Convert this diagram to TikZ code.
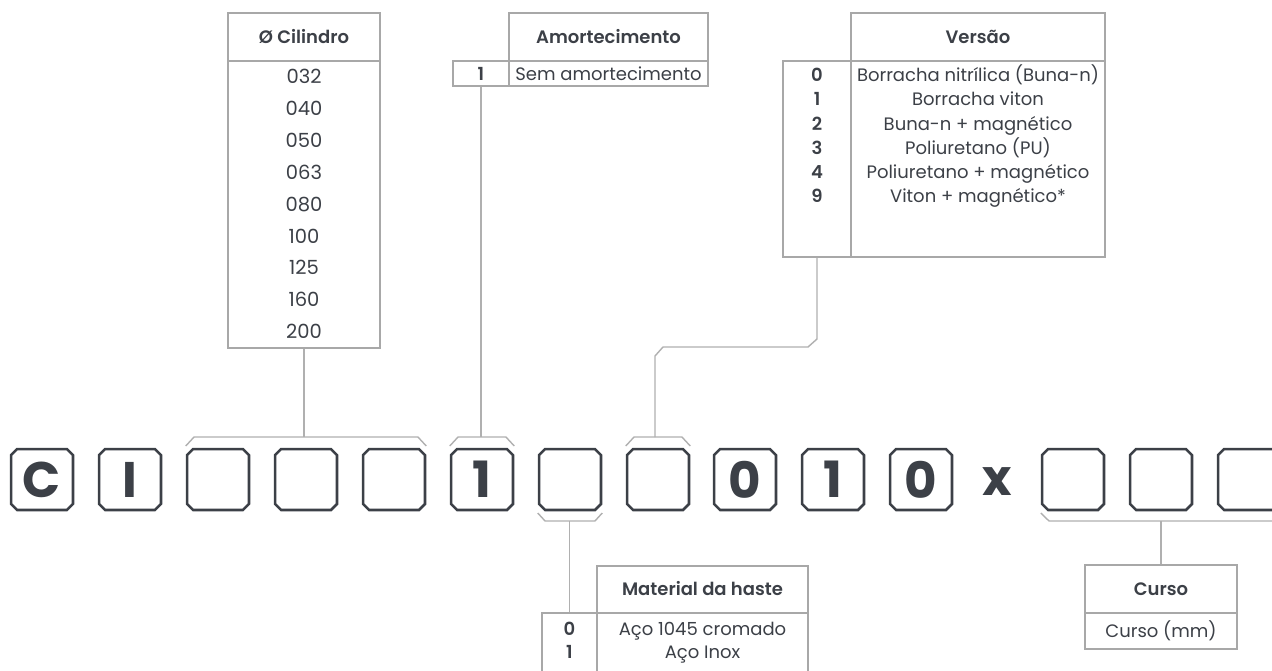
\documentclass[tikz,border=0pt]{standalone}
\usepackage{fontspec}
\setmainfont{Poppins}[BoldFont={Poppins SemiBold}]
\newfontfamily\heavy{Poppins Bold}
\usetikzlibrary{calc}
\definecolor{ink}{HTML}{3C4047}
\definecolor{tline}{HTML}{A8A8A8}
\definecolor{bline}{HTML}{B0B0B0}
\begin{document}
\begin{tikzpicture}[x=1pt,y=-1pt,
  codebox/.style={rectangle, minimum width=61.5pt, minimum height=60.5pt, inner sep=0pt,
    text=ink, font=\fontsize{50}{50}\selectfont\heavy},
  boxline/.style={draw=ink, line width=2.6pt, line join=miter},
  cellbox/.style={draw=tline, line width=1.3pt, inner sep=0pt, rectangle},
  brk/.style={draw=bline, line width=1.4pt},
  head/.style={text=ink, font=\fontsize{18}{21}\selectfont\bfseries, anchor=base, inner sep=0pt},
  rowtxt/.style={text=ink, font=\fontsize{18}{21}\selectfont, anchor=base, inner sep=0pt},
  bigrow/.style={text=ink, font=\fontsize{19.5}{22}\selectfont, anchor=base, inner sep=0pt},
  numtxt/.style={text=ink, font=\fontsize{18}{21}\selectfont\bfseries, anchor=base, inner sep=0pt}]
\useasboundingbox (0,0) rectangle (1272,670);
\fill[white] (0,0) rectangle (1272,670);

% ---- code boxes ----
\node[codebox] (b1) at (42,479.5) {C};
\node[codebox] (b2) at (130,479.5) {I};
\node[codebox] (b3) at (218,479.5) {};
\node[codebox] (b4) at (306,479.5) {};
\node[codebox] (b5) at (394,479.5) {};
\node[codebox] (b6) at (482,479.5) {1};
\node[codebox] (b7) at (570,479.5) {};
\node[codebox] (b8) at (658,479.5) {};
\node[codebox] (b9) at (745,479.5) {0};
\node[codebox] (b10) at (833,479.5) {1};
\node[codebox] (b11) at (921,479.5) {0};
\node[text=ink, font=\fontsize{50}{50}\selectfont\heavy, inner sep=0pt] (xx) at (997,482) {x};
\node[codebox] (b12) at (1073,479.5) {};
\node[codebox] (b13) at (1161,479.5) {};
\node[codebox] (b14) at (1249,479.5) {};
\foreach \b in {b1,b2,b3,b4,b5,b6,b7,b8,b9,b10,b11,b12,b13,b14}
  \draw[boxline] ([xshift=6pt]\b.north west) -- ([xshift=-6pt]\b.north east)
    -- ([yshift=-6pt]\b.north east) -- ([yshift=6pt]\b.south east)
    -- ([xshift=-6pt]\b.south east) -- ([xshift=6pt]\b.south west)
    -- ([yshift=6pt]\b.south west) -- ([yshift=-6pt]\b.north west) -- cycle;

% ---- Cilindro table ----
\node[cellbox, minimum width=152pt, minimum height=48pt] (cilH) at (304,37) {};
\node[cellbox, minimum width=152pt, minimum height=287pt] (cilB) at (304,204.5) {};
\node[head] (cilT) at (304,43.5) {Ø Cilindro};
\foreach \t [count=\i from 0] in {032,040,050,063,080,100,125,160,200}
  \node[bigrow] (cil\i) at (304,{83.5+31.9*\i}) {\t};

% ---- Amortecimento table ----
\node[cellbox, minimum width=199pt, minimum height=48pt] (amH) at (608.5,37) {};
\node[cellbox, minimum width=199pt, minimum height=25pt] (amB) at (608.5,73.5) {};
\node[cellbox, minimum width=56pt, minimum height=25pt] (amN) at (481,73.5) {};
\node[head] (amT) at (608.5,43.5) {Amortecimento};
\node[rowtxt] (am0) at (608.5,80) {Sem amortecimento};
\node[numtxt] (amn0) at (481,80) {1};

% ---- Versao table ----
\node[cellbox, minimum width=254pt, minimum height=48pt] (verH) at (978,37) {};
\node[cellbox, minimum width=254pt, minimum height=196pt] (verB) at (978,159) {};
\node[cellbox, minimum width=68pt, minimum height=196pt] (verN) at (817,159) {};
\node[head] (verT) at (978,43.5) {Versão};
\foreach \n/\t [count=\i from 0] in {0/Borracha nitrílica (Buna-n),1/Borracha viton,2/Buna-n + magnético,3/Poliuretano (PU),4/Poliuretano + magnético,9/Viton + magnético*}{
  \node[numtxt] (vern\i) at (817,{81.7+24.2*\i}) {\n};
  \node[rowtxt] (vert\i) at (978,{81.7+24.2*\i}) {\t};
}

% ---- Material table ----
\node[cellbox, minimum width=211pt, minimum height=47pt] (matH) at (702.5,589.5) {};
\node[cellbox, minimum width=211pt, minimum height=70pt] (matB) at (702.5,648) {};
\node[cellbox, minimum width=55pt, minimum height=70pt] (matN) at (569.5,648) {};
\node[head] (matT) at (702.5,595.5) {Material da haste};
\node[numtxt] (matn0) at (569.5,635) {0};
\node[rowtxt] (matt0) at (702.5,635) {Aço 1045 cromado};
\node[numtxt] (matn1) at (569.5,658.5) {1};
\node[rowtxt] (matt1) at (702.5,658.5) {Aço Inox};

% ---- Curso table ----
\node[cellbox, minimum width=152pt, minimum height=48pt] (curH) at (1161,589) {};
\node[cellbox, minimum width=152pt, minimum height=36pt] (curB) at (1161,631) {};
\node[head] (curT) at (1161,595.5) {Curso};
\node[rowtxt] (cur0) at (1161,637) {Curso (mm)};

% ---- brackets & connectors ----
\coordinate (tb) at (0,437);
\coordinate (td) at (0,446);
\coordinate (bb) at (0,521);
\coordinate (bd) at (0,513);
\coordinate (v1) at (0,339);
\coordinate (v2) at (0,347);
\coordinate (v3) at (0,356);

\draw[brk] ([xshift=-1.3pt]b3.west |- td) -- ([xshift=7pt]b3.west |- tb) -- ([xshift=-7pt]b5.east |- tb) -- ([xshift=1.3pt]b5.east |- td);
\draw[brk] (cilB.south) -- (cilB.south |- tb);

\draw[brk] ([xshift=-1.3pt]b6.west |- td) -- ([xshift=7pt]b6.west |- tb) -- ([xshift=-7pt]b6.east |- tb) -- ([xshift=1.3pt]b6.east |- td);
\draw[brk] (amN.south) -- (amN.south |- tb);

\draw[brk] ([xshift=-1.3pt]b8.west |- td) -- ([xshift=7pt]b8.west |- tb) -- ([xshift=-7pt]b8.east |- tb) -- ([xshift=1.3pt]b8.east |- td);
\draw[brk] (verN.south) -- (verN.south |- v1) -- ([xshift=-9pt]verN.south |- v2) -- ([xshift=5pt]b8.north |- v2) -- ([xshift=-3pt]b8.north |- v3) -- ([xshift=-3pt]b8.north |- tb);

\draw[brk] ([xshift=-1.3pt]b7.west |- bd) -- ([xshift=6pt]b7.west |- bb) -- ([xshift=-6pt]b7.east |- bb) -- ([xshift=1.3pt]b7.east |- bd);
\draw[brk] (matN.north |- bb) -- (matN.north);

\draw[brk] ([xshift=-1.3pt]b12.west |- bd) -- ([xshift=7pt]b12.west |- bb) -- ([xshift=-7pt]b14.east |- bb) -- ([xshift=1.3pt]b14.east |- bd);
\draw[brk] (b13.south |- bb) -- (curH.north);
\end{tikzpicture}
\end{document}
